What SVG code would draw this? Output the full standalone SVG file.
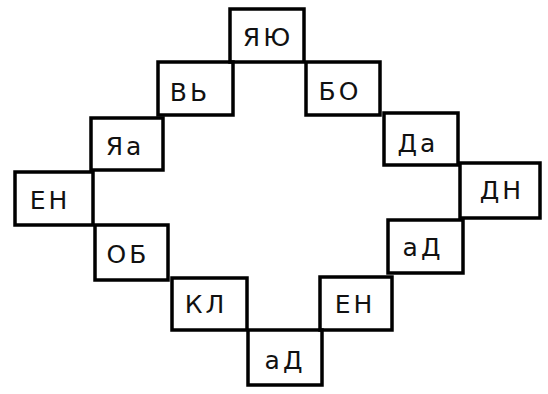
<svg xmlns="http://www.w3.org/2000/svg" width="548" height="394" viewBox="0 0 548 394">
<style>
.b{fill:none;stroke:#000;stroke-width:3.5;stroke-linejoin:miter}
.t{font-family:"DejaVu Sans","Liberation Sans",sans-serif;font-size:25px;fill:#111;text-anchor:middle;dominant-baseline:central;letter-spacing:3px}
</style>
<rect width="548" height="394" fill="#fff"/>
<g id="n1"><rect class="b" x="230" y="9" width="74" height="53"/><text class="t" x="268" y="37">ЯЮ</text></g>
<g id="n2"><rect class="b" x="158" y="62" width="75" height="53"/><text class="t" x="190" y="92">ВЬ</text></g>
<g id="n3"><rect class="b" x="306" y="62" width="74" height="53"/><text class="t" x="340" y="91">БО</text></g>
<g id="n4"><rect class="b" x="91" y="118" width="72" height="52"/><text class="t" x="125" y="146">Яа</text></g>
<g id="n5"><rect class="b" x="384" y="113" width="74" height="52"/><text class="t" x="418" y="143">Да</text></g>
<g id="n6"><rect class="b" x="15" y="172" width="78" height="53"/><text class="t" x="50" y="200">ЕН</text></g>
<g id="n7"><rect class="b" x="460" y="163" width="80" height="55"/><text class="t" x="502" y="190">ДН</text></g>
<g id="n8"><rect class="b" x="95" y="225" width="73" height="55"/><text class="t" x="128" y="254">ОБ</text></g>
<g id="n9"><rect class="b" x="388" y="220" width="75" height="53"/><text class="t" x="423" y="247">аД</text></g>
<g id="n10"><rect class="b" x="172" y="278" width="75" height="52"/><text class="t" x="206" y="304">КЛ</text></g>
<g id="n11"><rect class="b" x="320" y="277" width="72" height="53"/><text class="t" x="355" y="304">ЕН</text></g>
<g id="n12"><rect class="b" x="248" y="330" width="74" height="55"/><text class="t" x="285" y="360">аД</text></g>
<g id="connectors"></g>
</svg>
